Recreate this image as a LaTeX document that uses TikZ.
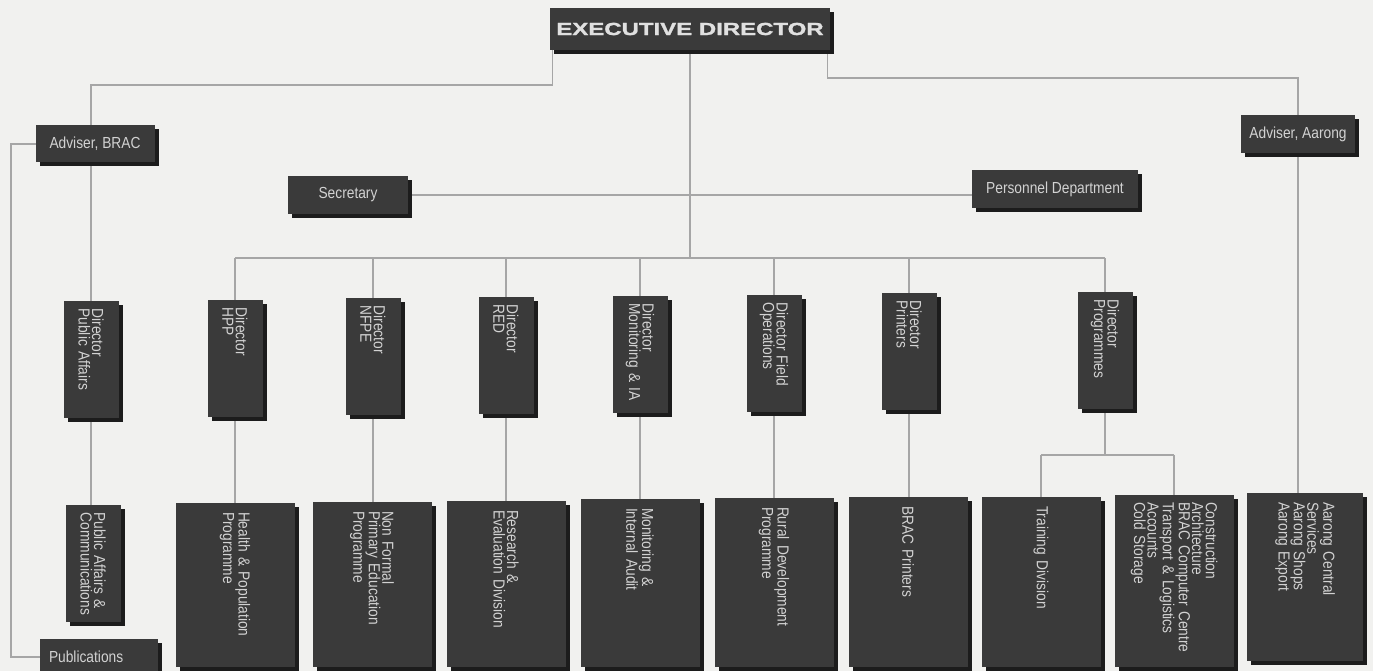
\documentclass[tikz,border=0pt]{standalone}
\usepackage{fontspec}
\setmainfont{Liberation Sans}[FakeStretch=0.86]
\newfontfamily\edfont{Liberation Sans Bold}[FakeStretch=1.37,FakeBold=1.5]
\usetikzlibrary{calc}
\pgfdeclarelayer{bg}
\pgfsetlayers{bg,main}
\definecolor{bgc}{HTML}{F1F1EF}
\definecolor{boxc}{HTML}{3A3A3A}
\definecolor{shadc}{HTML}{1C1C1C}
\definecolor{txtc}{HTML}{D2D2D2}
\definecolor{linec}{HTML}{A6A6A6}
\begin{document}
\begin{tikzpicture}[x=1pt,y=-1pt,
  conn/.style={draw=linec,line width=1.3pt},
  hbox/.style={fill=boxc,text=txtc,inner sep=0pt,font=\fontsize{16}{13.5}\selectfont,
    preaction={fill=shadc,transform canvas={xshift=4pt,yshift=-4pt}}},
  vbox/.style={hbox,rotate=-90,align=left,inner xsep=8pt,inner ysep=0pt,minimum height=55pt},
  bbox/.style={hbox,rotate=-90,align=left,inner xsep=9pt,inner ysep=0pt,minimum height=119pt}]
\useasboundingbox (0,0) rectangle (1373,671);

% top level
\node[hbox,minimum width=280pt,minimum height=42pt,text=white!88!black,font=\edfont\fontsize{17.5}{20}\selectfont] (ed) at (690,29) {EXECUTIVE DIRECTOR};
\node[hbox,minimum width=119pt,minimum height=37pt] (advb) at (95,144) {Adviser, BRAC};
\node[hbox,minimum width=114pt,minimum height=38pt] (adva) at (1298,134) {Adviser, Aarong};
\node[hbox,minimum width=120pt,minimum height=38pt] (sec) at (348,195) {Secretary};
\node[hbox,minimum width=166pt,minimum height=38pt] (pers) at (1055,189) {Personnel Department};

% directors
\node[vbox,minimum width=117pt,text width=101pt] (dpa) at (91,359) {Director\\Public Affairs};
\node[vbox,minimum width=117pt,text width=101pt] (dhpp) at (235,358) {Director\\HPP};
\node[vbox,minimum width=117pt,text width=101pt] (dnfpe) at (373,356) {Director\\NFPE};
\node[vbox,minimum width=117pt,text width=101pt] (dred) at (506,355) {Director\\RED};
\node[vbox,minimum width=117pt,text width=101pt] (dmia) at (640,354) {Director\\Monitoring \& IA};
\node[vbox,minimum width=117pt,text width=101pt] (dfo) at (774,353) {Director Field\\Operations};
\node[vbox,minimum width=117pt,text width=101pt] (dpr) at (909,351) {Director\\Printers};
\node[vbox,minimum width=117pt,text width=101pt] (dprog) at (1105,350) {Director\\Programmes};

% bottom row
\node[vbox,minimum width=117pt,text width=101pt] (pac) at (93,563) {Public Affairs \&\\Communications};
\node[hbox,minimum width=118pt,minimum height=36pt,text width=100pt,align=left,inner xsep=9pt] (pub) at (99,657) {Publications};
\node[bbox,minimum width=164pt,text width=146pt] (hpp) at (235,585) {Health \& Population\\Programme};
\node[bbox,minimum width=165pt,text width=147pt] (nfpe) at (372,584.5) {Non Formal\\Primary Education\\Programme};
\node[bbox,minimum width=166pt,text width=148pt] (red) at (506,584) {Research \&\\Evaluation Division};
\node[bbox,minimum width=168pt,text width=150pt] (mia) at (640,583) {Monitoring \&\\Internal Audit};
\node[bbox,minimum width=169pt,text width=151pt] (rdp) at (774,582.5) {Rural Development\\Programme};
\node[bbox,minimum width=170pt,text width=152pt] (brp) at (908,582) {BRAC Printers};
\node[bbox,minimum width=170pt,text width=152pt] (trd) at (1041,582) {Training Division};
\node[bbox,minimum width=172pt,text width=158pt,inner xsep=7pt] (cons) at (1174,581) {Construction\\Architecture\\BRAC Computer Centre\\Transport \& Logistics\\Accounts\\Cold Storage};
\node[bbox,minimum width=168pt,text width=150pt,minimum height=116pt] (aar) at (1305,577) {Aarong Central\\Services\\Aarong Shops\\Aarong Export};

\coordinate (jl) at (0,85);
\coordinate (jr) at (0,78);
\coordinate (bus) at (0,258);
\coordinate (split) at (0,455);
\coordinate (rail) at (11,0);

\begin{pgfonlayer}{bg}
\fill[bgc] (0,0) rectangle (1373,671);
\draw[conn] ($(ed.south west)+(3,0)$) |- (dpa.center |- jl) -- (dpa.center);
\draw[conn] (dpa.center) -- (dpa.center |- pac.center);
\draw[conn] ($(ed.south east)+(-3,0)$) |- (adva.center |- jr) -- (adva.center);
\draw[conn] (adva.center) -- (adva.center |- aar.center);
\draw[conn] (advb.center) -- (advb.center -| rail) -- (rail |- pub.center) -- (pub.center);
\draw[conn] (sec.center) -- (sec.center -| pers.center);
\draw[conn] (ed.center) -- (ed.center |- bus);
\draw[conn] (dhpp.center |- bus) -- (dprog.center |- bus);
\foreach \d/\b in {dhpp/hpp,dnfpe/nfpe,dred/red,dmia/mia,dfo/rdp,dpr/brp}{
  \draw[conn] (\d.center |- bus) -- (\d.center) -- (\d.center |- \b.center);
}
\draw[conn] (dprog.center |- bus) -- (dprog.center) -- (dprog.center |- split);
\draw[conn] (trd.center |- split) -- (cons.center |- split);
\draw[conn] (trd.center |- split) -- (trd.center);
\draw[conn] (cons.center |- split) -- (cons.center);
\end{pgfonlayer}
\end{tikzpicture}
\end{document}
